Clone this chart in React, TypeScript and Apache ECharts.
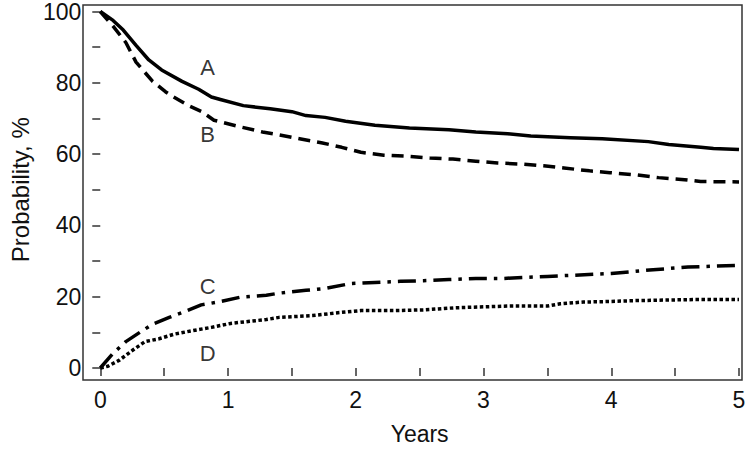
import React, { useEffect, useRef } from "react";
import * as echarts from "echarts";

const aT = [0, 0.1, 0.18, 0.28, 0.38, 0.48, 0.64, 0.77, 0.87, 0.94, 1.12, 1.33, 1.5, 1.61, 1.76, 1.92, 2.15, 2.42, 2.73, 2.94, 3.19, 3.37, 3.68, 3.93, 4.29, 4.45, 4.7, 4.8, 5.0];
const aV = [100, 97.5, 94.8, 90.5, 86.4, 83.6, 80.4, 78.2, 76, 75.3, 73.6, 72.7, 71.9, 70.8, 70.3, 69.2, 68.1, 67.3, 66.8, 66.2, 65.7, 65.1, 64.6, 64.3, 63.5, 62.7, 61.9, 61.6, 61.3];

const bT = [0, 0.1, 0.2, 0.28, 0.41, 0.51, 0.56, 0.69, 0.79, 0.89, 1.1, 1.27, 1.4, 1.56, 1.73, 1.89, 2.04, 2.22, 2.4, 2.58, 2.76, 2.94, 3.11, 3.3, 3.47, 3.63, 3.83, 3.99, 4.19, 4.37, 4.55, 4.7, 5.0];
const bV = [100, 95.9, 91.3, 85.8, 80.4, 77.5, 76.3, 73.6, 72, 69.5, 67.6, 66.2, 65.4, 64.3, 63.2, 61.9, 60.5, 59.7, 59.4, 58.9, 58.6, 58, 57.5, 57.2, 56.7, 56.1, 55.3, 54.8, 54.2, 53.4, 52.9, 52.3, 52.2];

const cT = [0, 0.1, 0.2, 0.31, 0.41, 0.54, 0.66, 0.79, 0.92, 1.1, 1.3, 1.4, 1.61, 1.76, 1.96, 2.15, 2.35, 2.53, 2.73, 2.94, 3.14, 3.5, 4.0, 4.3, 4.6, 5.0];
const cV = [0, 4.1, 7.4, 10, 12.3, 14.2, 15.8, 17.7, 18.5, 19.9, 20.4, 21, 21.8, 22.3, 23.7, 24, 24.3, 24.5, 24.8, 25.1, 25.1, 25.7, 26.5, 27.5, 28.3, 28.8];

const dT = [0, 0.06, 0.15, 0.25, 0.35, 0.46, 0.58, 0.71, 0.87, 1.02, 1.17, 1.3, 1.4, 1.66, 1.86, 2.04, 2.3, 2.53, 2.78, 3.04, 3.22, 3.5, 3.6, 3.78, 3.93, 4.19, 4.65, 5.0];
const dV = [0, 0.5, 2.2, 4.9, 7.4, 8.2, 9.5, 10.4, 11.4, 12.5, 13.1, 13.6, 14.2, 14.7, 15.5, 16.1, 16.1, 16.3, 16.9, 17.2, 17.4, 17.4, 18, 18.5, 18.6, 18.9, 19.2, 19.2];

const curveNames = ["A", "B", "C", "D"];
const labelT = [0.84, 0.84, 0.84, 0.84];
const labelV = [84.2, 65.4, 22.9, 4.1];

const FONT = "Liberation Sans, Arial, sans-serif";
const INK = "#111";
const AX = "#333";

function zip(t: number[], v: number[]) {
  return t.map((x, i) => [x, v[i]]);
}

export default function App() {
  const ref = useRef<HTMLDivElement>(null);
  useEffect(() => {
    if (!ref.current) return;
    const chart = echarts.init(ref.current, undefined, { renderer: "svg" });
    const lineBase = (name: string, data: number[][], dash: any) => ({
      name,
      type: "line",
      data,
      showSymbol: false,
      symbol: "none",
      clip: false,
      lineStyle: { color: "#000", width: 3.5, type: dash, cap: "butt", join: "round" },
      z: 3,
    });
    chart.setOption({
      animation: false,
      backgroundColor: "#fff",
      grid: { left: 87, right: 11, top: 8, bottom: 75 },
      xAxis: {
        type: "value",
        min: 0,
        max: 5,
        interval: 1,
        offset: 5,
        name: "Years",
        nameLocation: "middle",
        nameGap: 49,
        nameTextStyle: { fontFamily: FONT, fontSize: 23, color: INK },
        axisLine: { show: false },
        axisTick: { show: true, length: 8, lineStyle: { color: AX, width: 1.5 } },
        minorTick: { show: true, splitNumber: 2, length: 8, lineStyle: { color: AX, width: 1.5 } },
        splitLine: { show: false },
        minorSplitLine: { show: false },
        axisLabel: { fontFamily: FONT, fontSize: 23, color: INK, margin: 15 },
      },
      yAxis: {
        type: "value",
        min: 0,
        max: 100,
        interval: 20,
        offset: 4,
        name: "Probability, %",
        nameLocation: "middle",
        nameGap: 58,
        nameTextStyle: { fontFamily: FONT, fontSize: 24, color: INK },
        axisLine: { show: false },
        axisTick: { show: true, length: 8, lineStyle: { color: AX, width: 1.5 } },
        minorTick: { show: true, splitNumber: 2, length: 8, lineStyle: { color: AX, width: 1.5 } },
        splitLine: { show: false },
        minorSplitLine: { show: false },
        axisLabel: { fontFamily: FONT, fontSize: 23, color: INK, margin: 15 },
      },
      graphic: [
        {
          type: "rect",
          shape: { x: 83, y: 5, width: 659, height: 375 },
          style: { fill: "none", stroke: AX, lineWidth: 1.5 },
          z: 1,
          silent: true,
        },
      ],
      series: [
        lineBase("A", zip(aT, aV), "solid"),
        lineBase("B", zip(bT, bV), [12, 7]),
        lineBase("C", zip(cT, cV), [18, 7, 3.5, 7]),
        lineBase("D", zip(dT, dV), [3.5, 2.5]),
        {
          type: "scatter",
          symbolSize: 1,
          itemStyle: { color: "rgba(0,0,0,0)" },
          clip: false,
          data: curveNames.map((n, i) => ({ name: n, value: [labelT[i], labelV[i]] })),
          label: {
            show: true,
            position: "inside",
            formatter: "{b}",
            fontFamily: FONT,
            fontSize: 22,
            color: "#000",
            textBorderWidth: 0,
          },
          z: 4,
        },
      ],
    });
    return () => chart.dispose();
  }, []);
  return (
    <div
      ref={ref}
      style={{ position: "fixed", left: 0, top: 0, width: 750, height: 450 }}
    />
  );
}
